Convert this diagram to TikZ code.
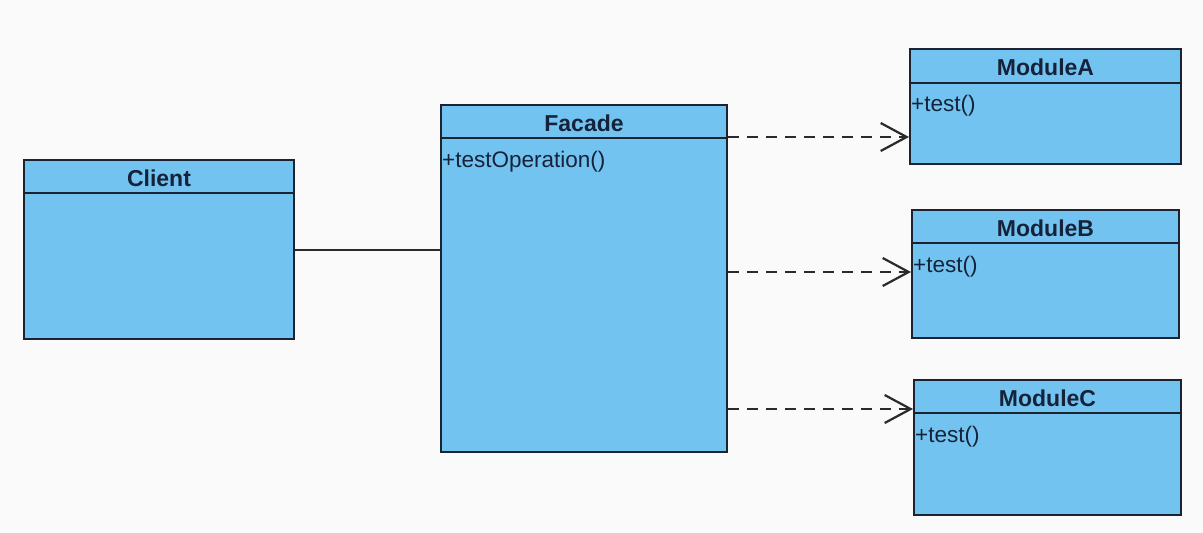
\documentclass[tikz,border=0pt]{standalone}
\usepackage{fontspec}
\setmainfont{Liberation Sans}
\usetikzlibrary{arrows.meta,calc}
\definecolor{bg}{HTML}{FAFAFA}
\definecolor{boxfill}{HTML}{72C3EF}
\definecolor{boxline}{HTML}{1C2230}
\definecolor{txt}{HTML}{16223A}
\definecolor{conn}{HTML}{2A2A2A}
\tikzset{
  umlbox/.style={draw=boxline, fill=boxfill, line width=2pt, anchor=north west, inner sep=0pt},
  headtext/.style={font=\fontsize{23}{26}\selectfont\bfseries, text=txt, anchor=center, inner sep=0pt},
  membertext/.style={font=\fontsize{22.5}{26}\selectfont, text=txt, anchor=north west, inner sep=0pt},
  sepline/.style={draw=boxline, line width=2pt},
  assoc/.style={draw=conn, line width=2pt},
  dep/.style={draw=conn, line width=2pt, dash pattern=on 11pt off 8pt, -{Straight Barb[length=26pt,width=28pt,line width=2.2pt]}},
}
\begin{document}
\begin{tikzpicture}[x=1pt,y=1pt]
\fill[bg] (0,0) rectangle (1203,-533);
\useasboundingbox (0,0) rectangle (1203,-533);

% Client
\node[umlbox, minimum width=270pt, minimum height=179pt] (client) at (23,-159) {};
\draw[sepline] ($(client.north west)+(0,-34)$) -- ($(client.north east)+(0,-34)$);
\node[headtext] (clientname) at ($(client.north)+(0,-19)$) {Client};

% Facade
\node[umlbox, minimum width=286pt, minimum height=347pt] (facade) at (440,-104) {};
\draw[sepline] ($(facade.north west)+(0,-34)$) -- ($(facade.north east)+(0,-34)$);
\node[headtext] (facadename) at ($(facade.north)+(0,-19)$) {Facade};
\node[membertext] (facadeop) at ($(facade.north west)+(2,-47)$) {+testOperation()};

% ModuleA
\node[umlbox, minimum width=271pt, minimum height=115pt] (modA) at (909,-48) {};
\draw[sepline] ($(modA.north west)+(0,-35)$) -- ($(modA.north east)+(0,-35)$);
\node[headtext] (modAname) at ($(modA.north)+(0,-19)$) {ModuleA};
\node[membertext] (modAop) at ($(modA.north west)+(2,-47)$) {+test()};

% ModuleB
\node[umlbox, minimum width=267pt, minimum height=128pt] (modB) at (911,-209) {};
\draw[sepline] ($(modB.north west)+(0,-34)$) -- ($(modB.north east)+(0,-34)$);
\node[headtext] (modBname) at ($(modB.north)+(0,-19)$) {ModuleB};
\node[membertext] (modBop) at ($(modB.north west)+(2,-47)$) {+test()};

% ModuleC
\node[umlbox, minimum width=267pt, minimum height=135pt] (modC) at (913,-379) {};
\draw[sepline] ($(modC.north west)+(0,-34)$) -- ($(modC.north east)+(0,-34)$);
\node[headtext] (modCname) at ($(modC.north)+(0,-19)$) {ModuleC};
\node[membertext] (modCop) at ($(modC.north west)+(2,-47)$) {+test()};

% connectors
\draw[assoc] (client.east) -- (client.east -| facade.west);
\coordinate (fa) at ($(facade.north east)+(0,-33)$);
\coordinate (fb) at ($(facade.north east)+(0,-168)$);
\coordinate (fc) at ($(facade.north east)+(0,-305)$);
\draw[dep] (fa) -- (fa -| modA.west);
\draw[dep] (fb) -- (fb -| modB.west);
\draw[dep] (fc) -- (fc -| modC.west);
\end{tikzpicture}
\end{document}
